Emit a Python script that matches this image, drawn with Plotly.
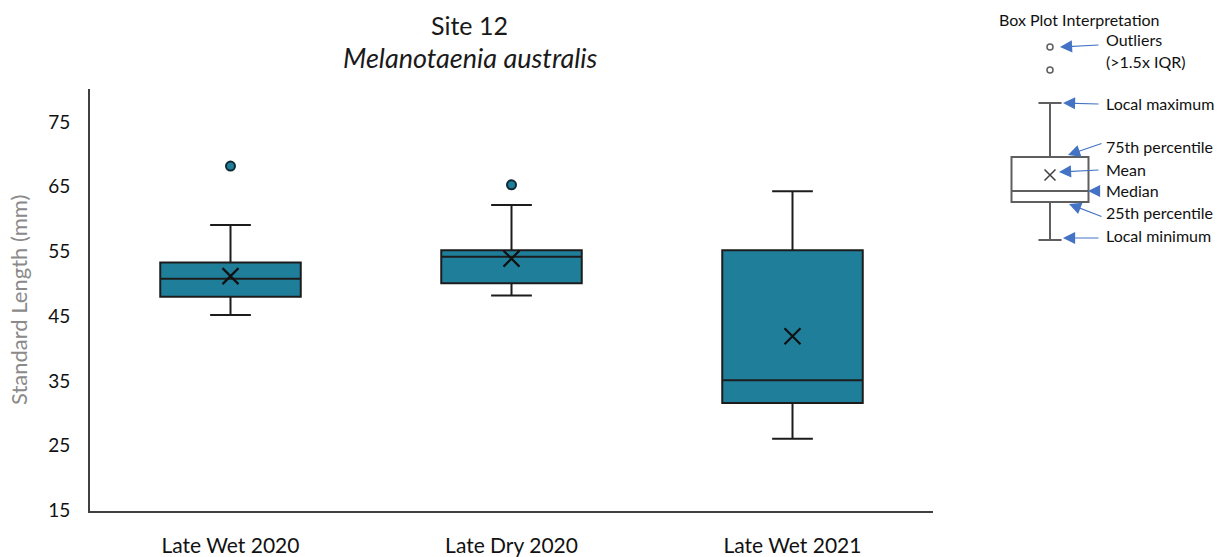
import plotly.graph_objects as go

# Standard length summary statistics per sampling event (mm)
categories = ["Late Wet 2020", "Late Dry 2020", "Late Wet 2021"]
lower_whisker = [45.2, 48.2, 26.1]
q1 = [48.0, 50.1, 31.6]
median = [50.8, 54.2, 35.1]
q3 = [53.3, 55.2, 55.2]
upper_whisker = [59.1, 62.2, 64.3]
mean = [51.2, 53.9, 41.9]

# Outliers (>1.5x IQR)
outlier_cat = ["Late Wet 2020", "Late Dry 2020"]
outlier_val = [68.2, 65.3]

y_ticks = [15, 25, 35, 45, 55, 65, 75]

# Illustrative values for the interpretation key
key_lower = [5]
key_q1 = [24]
key_median = [29.5]
key_q3 = [46.5]
key_upper = [73.5]
key_mean = [37.5]
key_outliers = [90, 101.5]
key_labels = ["Outliers", "(>1.5x IQR)", "Local maximum", "75th percentile",
              "Mean", "Median", "25th percentile", "Local minimum"]

W, H = 1220, 557
FONT = "Lato"
TEAL = "#1f7f9b"
EDGE = "#1c1c1c"
AXIS = "#404040"
KEY_LINE = "#5f5f5f"
ARROW = "#4472C4"


def px_x(p):
    return p / W


def px_y(p):
    return (H - p) / H


fig = go.Figure()

fig.add_trace(go.Box(
    x=categories, q1=q1, median=median, q3=q3,
    lowerfence=lower_whisker, upperfence=upper_whisker,
    width=0.5, whiskerwidth=0.29, boxpoints=False,
    fillcolor=TEAL, line=dict(color=EDGE, width=2),
    showlegend=False, hoverinfo="skip",
))
fig.add_trace(go.Scatter(
    x=categories, y=mean, mode="markers", showlegend=False,
    marker=dict(symbol="x-thin", size=16, line=dict(color="#111111", width=2.2)),
))
fig.add_trace(go.Scatter(
    x=outlier_cat, y=outlier_val, mode="markers", showlegend=False,
    marker=dict(symbol="circle", size=9, color=TEAL, line=dict(color="#0f2a33", width=2)),
))

# Interpretation key, drawn on its own small pair of axes
fig.add_trace(go.Box(
    x=[0.5], q1=key_q1, median=key_median, q3=key_q3,
    lowerfence=key_lower, upperfence=key_upper,
    width=0.77, whiskerwidth=0.3, boxpoints=False,
    fillcolor="white", line=dict(color=KEY_LINE, width=2),
    xaxis="x2", yaxis="y2", showlegend=False, hoverinfo="skip",
))
fig.add_trace(go.Scatter(
    x=[0.5], y=key_mean, mode="markers", xaxis="x2", yaxis="y2", showlegend=False,
    marker=dict(symbol="x-thin", size=11, color="#404040",
                line=dict(color="#404040", width=1.5)),
))
fig.add_trace(go.Scatter(
    x=[0.5] * len(key_outliers), y=key_outliers, mode="markers",
    xaxis="x2", yaxis="y2", showlegend=False,
    marker=dict(symbol="circle-open", size=6, color=KEY_LINE,
                line=dict(color=KEY_LINE, width=1.5)),
))

annotations = [
    dict(text="Site 12", x=px_x(469), y=px_y(25), xref="paper", yref="paper",
         xanchor="center", yanchor="middle", showarrow=False,
         font=dict(family=FONT, size=25, color="#1a1a1a")),
    dict(text="<i>Melanotaenia australis</i>", x=px_x(470), y=px_y(58),
         xref="paper", yref="paper", xanchor="center", yanchor="middle",
         showarrow=False, font=dict(family=FONT, size=27, color="#1a1a1a")),
    dict(text="Standard Length (mm)", x=px_x(18), y=px_y(300), xref="paper",
         yref="paper", xanchor="center", yanchor="middle", textangle=-90,
         showarrow=False, font=dict(family=FONT, size=22, color="#8a8a8a")),
    dict(text="Box Plot Interpretation", x=px_x(997), y=px_y(19), xref="paper",
         yref="paper", xanchor="left", yanchor="middle", showarrow=False,
         font=dict(family=FONT, size=16, color="#111111")),
]

# Key labels and their arrows (arrow tail, arrow head)
label_y = [105, 94, 73, 51.5, 40, 29.5, 18.5, 7]
for txt, yy in zip(key_labels, label_y):
    annotations.append(dict(
        text=txt, x=1.04, y=yy, xref="x2", yref="y2", xanchor="left",
        yanchor="middle", showarrow=False,
        font=dict(family=FONT, size=16, color="#111111")))

arrows = [
    ((1.00, 102.5), (0.60, 101.5)),
    ((1.00, 73.0), (0.63, 73.5)),
    ((1.03, 53.5), (0.68, 47.5)),
    ((1.00, 40.0), (0.59, 39.0)),
    ((1.00, 29.5), (0.88, 29.5)),
    ((1.03, 16.5), (0.69, 23.0)),
    ((1.00, 6.0), (0.63, 6.0)),
]
for (tx, ty), (hx, hy) in arrows:
    annotations.append(dict(
        text="", x=hx, y=hy, ax=tx, ay=ty, xref="x2", yref="y2",
        axref="x2", ayref="y2", showarrow=True, arrowhead=2, arrowsize=2.2,
        arrowwidth=1.1, arrowcolor=ARROW))

fig.update_layout(
    width=W, height=H, autosize=False,
    margin=dict(l=0, r=0, t=0, b=0),
    paper_bgcolor="white", plot_bgcolor="white",
    font=dict(family=FONT, color="#111111"),
    showlegend=False,
    annotations=annotations,
    xaxis=dict(
        domain=[px_x(90), px_x(933)], range=[-0.5, 2.5], type="category",
        showline=True, linecolor=AXIS, linewidth=2, showgrid=False, zeroline=False,
        ticks="", tickfont=dict(family=FONT, size=21, color="#111111"),
        ticklabelstandoff=15, automargin=False, anchor="y",
    ),
    yaxis=dict(
        domain=[px_y(510.5), px_y(89)], range=[15, 80.1],
        tickvals=y_ticks, showline=True, linecolor=AXIS, linewidth=2,
        showgrid=False, zeroline=False, ticks="",
        tickfont=dict(family=FONT, size=19, color="#111111"),
        ticklabelstandoff=14, automargin=False, anchor="x",
    ),
    xaxis2=dict(domain=[px_x(1000), 1.0], range=[0, 2.2], visible=False,
                anchor="y2", fixedrange=True),
    yaxis2=dict(domain=[px_y(250), px_y(10)], range=[0, 120], visible=False,
                anchor="x2", fixedrange=True),
)

fig.write_html("out.html")
